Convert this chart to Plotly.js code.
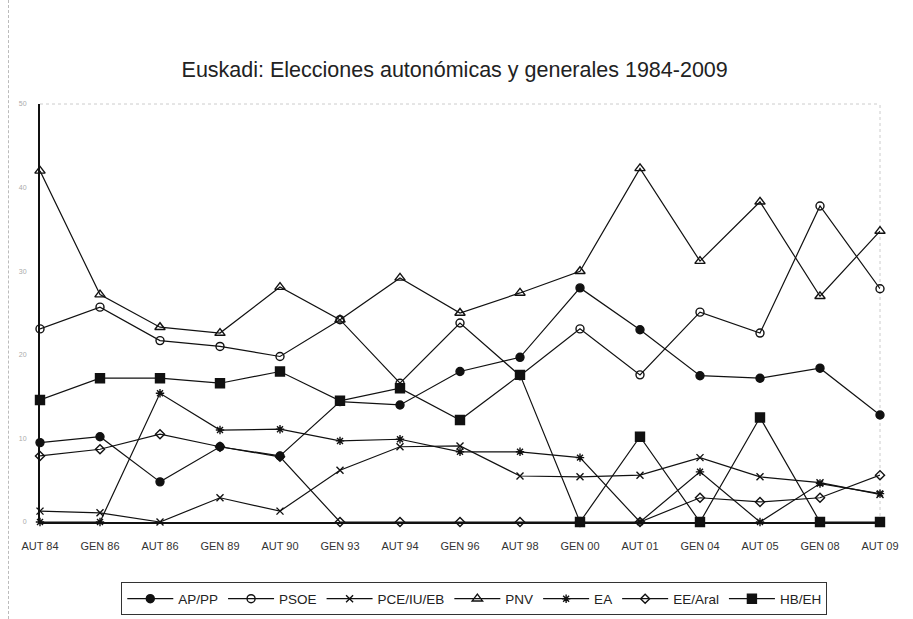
<!DOCTYPE html>
<html>
<head>
<meta charset="utf-8">
<script src="https://cdn.plot.ly/plotly-3.0.1.min.js"></script>
<style>
  html, body { margin: 0; padding: 0; background: #fff; }
  #wrap { position: relative; width: 913px; height: 619px; }
  #chart { width: 913px; height: 619px; }
  #frame { position: absolute; left: 8px; top: 0; width: 0; height: 619px; border-left: 1px dashed #bbb; pointer-events: none; }
</style>
</head>
<body>
<div id="wrap">
<div id="chart"></div>
<div id="frame"></div>
</div>
<script>
const categories = ["AUT 84","GEN 86","AUT 86","GEN 89","AUT 90","GEN 93","AUT 94","GEN 96","AUT 98","GEN 00","AUT 01","GEN 04","AUT 05","GEN 08","AUT 09"];

const apPP   = [9.5, 10.2, 4.8, 9.0, 7.9, 14.4, 14.0, 18.0, 19.7, 28.0, 23.0, 17.5, 17.2, 18.4, 12.8];
const psoe   = [23.1, 25.7, 21.7, 21.0, 19.8, 24.2, 16.6, 23.8, 17.5, 23.1, 17.6, 25.1, 22.6, 37.8, 27.9];
const pceIU  = [1.3, 1.1, 0.0, 2.9, 1.3, 6.2, 9.0, 9.1, 5.5, 5.4, 5.6, 7.7, 5.4, 4.7, 3.3];
const pnv    = [42.0, 27.2, 23.3, 22.6, 28.1, 24.2, 29.2, 25.0, 27.4, 30.0, 42.3, 31.2, 38.3, 27.0, 34.8];
const ea     = [0, 0, 15.4, 11.0, 11.1, 9.7, 9.9, 8.4, 8.4, 7.7, 0, 6.0, 0, 4.6, 3.4];
const eeAral = [7.9, 8.7, 10.5, 9.0, 7.8, 0, 0, 0, 0, 0, 0, 2.9, 2.4, 2.9, 5.6];
const hbEH   = [14.6, 17.2, 17.2, 16.6, 18.0, 14.5, 16.0, 12.2, 17.6, 0, 10.2, 0, 12.5, 0, 0];

const seriesNames = ["AP/PP","PSOE","PCE/IU/EB","PNV","EA","EE/Aral","HB/EH"];
const seriesValues = [apPP, psoe, pceIU, pnv, ea, eeAral, hbEH];
const markerSymbols = ["circle","circle-open","x-thin-open","triangle-up-open","asterisk-open","diamond-open","square"];
const markerSizes = [8, 8, 7, 9, 7, 7, 9];

const traces = seriesNames.map((name, i) => ({
  type: "scatter",
  mode: "lines+markers",
  name: name,
  x: categories,
  y: seriesValues[i],
  cliponaxis: false,
  line: { color: "#111", width: 1.2 },
  marker: {
    symbol: markerSymbols[i],
    size: markerSizes[i],
    color: "#111",
    line: { color: "#111", width: 1.4 }
  }
}));

const layout = {
  width: 913,
  height: 619,
  margin: { l: 40, r: 33, t: 104, b: 97, autoexpand: false },
  paper_bgcolor: "rgba(0,0,0,0)",
  plot_bgcolor: "rgba(0,0,0,0)",
  showlegend: true,
  title: {
    text: "Euskadi: Elecciones autonómicas y generales 1984-2009",
    font: { family: "Liberation Sans, Arial, sans-serif", size: 21.5, color: "#222" },
    xref: "container", x: 0.498, xanchor: "center",
    yref: "container", y: 0.887, yanchor: "middle"
  },
  xaxis: {
    type: "category",
    range: [0, 14],
    showgrid: false,
    zeroline: false,
    showline: true,
    linecolor: "#111",
    linewidth: 2,
    ticks: "",
    ticklabelstandoff: 13,
    tickfont: { family: "Liberation Sans Narrow, Liberation Sans, Arial, sans-serif", size: 11, color: "#333" },
    tickangle: 0,
    fixedrange: true
  },
  yaxis: {
    range: [0, 50],
    tickvals: [0, 10, 20, 30, 40, 50],
    showgrid: false,
    zeroline: false,
    showline: true,
    linecolor: "#111",
    linewidth: 2,
    ticks: "",
    ticklabelstandoff: 10,
    tickfont: { family: "Liberation Sans, Arial, sans-serif", size: 7, color: "#aaa" },
    fixedrange: true
  },
  shapes: [
    { type: "line", xref: "paper", yref: "paper", x0: 0, x1: 1, y0: 1, y1: 1,
      line: { color: "#ccc", width: 1, dash: "dot" }, layer: "below" },
    { type: "line", xref: "paper", yref: "paper", x0: 1, x1: 1, y0: 0, y1: 1,
      line: { color: "#ccc", width: 1, dash: "dot" }, layer: "below" }
  ],
  legend: {
    orientation: "h",
    x: 0.517, xanchor: "center",
    y: -0.184, yanchor: "middle",
    bordercolor: "#333",
    borderwidth: 1,
    bgcolor: "#fff",
    font: { family: "Liberation Sans, Arial, sans-serif", size: 13.5, color: "#222" },
    itemwidth: 46,
    tracegroupgap: 0
  }
};

Plotly.newPlot("chart", traces, layout, { displayModeBar: false, staticPlot: true });
</script>
</body>
</html>
